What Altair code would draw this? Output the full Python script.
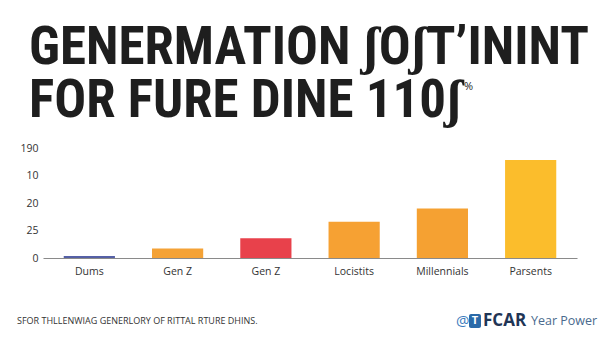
import altair as alt
import pandas as pd

categories = ["Dums", "Gen Z", "Gen Z", "Locistits", "Millennials", "Parsents"]
values = [1.8, 8.6, 18, 33, 45, 89]
bar_colors = ["#5560a6", "#f4a236", "#e8414b", "#f6a133", "#f5a132", "#fbbd2c"]
y_tick_values = [0, 25, 50, 75, 100]
y_tick_labels = ["0", "25", "20", "10", "190"]

title_lines = ["GENERMATION ʃOʃT’ININT", "FOR FURE DINE 110ʃ"]
footer_note = "SFOR THLLENWIAG GENERLORY OF RITTAL RTURE DHINS."

df = pd.DataFrame({"idx": list(range(len(categories))), "cat": categories,
                   "value": values, "color": bar_colors})

x_label_expr = "[" + ",".join('"%s"' % c for c in categories) + "][datum.value]"
y_label_expr = "{" + ",".join('"%d":"%s"' % (v, l) for v, l in zip(y_tick_values, y_tick_labels)) + "}[datum.value]"

bars = alt.Chart(df).mark_bar().encode(
    x=alt.X("idx:O", title=None,
            scale=alt.Scale(paddingInner=0.42, paddingOuter=0.235),
            axis=alt.Axis(labelExpr=x_label_expr, labelAngle=0, ticks=False,
                          domainColor="#8a8a8a", domainWidth=1.2,
                          labelPadding=8, labelFontSize=10.5, labelColor="#333333",
                          labelFont="Open Sans")),
    y=alt.Y("value:Q", title=None,
            scale=alt.Scale(domain=[0, 100], nice=False),
            axis=alt.Axis(values=y_tick_values, labelExpr=y_label_expr, ticks=False,
                          domain=False, grid=False, labelPadding=5,
                          labelFontSize=10.5, labelColor="#333333", labelFont="Open Sans")),
    color=alt.Color("color:N", scale=None, legend=None),
)

one = pd.DataFrame({"a": [0]})

def txt(s, x, y, size, color, weight="normal", font="Open Sans", align="left",
        baseline="middle"):
    return alt.Chart(one).mark_text(text=s, fontSize=size, color=color, fontWeight=weight,
                                    font=font, align=align, baseline=baseline).encode(
        x=alt.value(x), y=alt.value(y))

title_font = "Roboto Condensed"
title1 = txt(title_lines[0], -14, -84, 53, "#1e1e1e", weight="bold", font=title_font,
             baseline="alphabetic")
title2 = txt(title_lines[1], -14, -31, 53, "#1e1e1e", weight="bold", font=title_font,
             baseline="alphabetic")
pct = txt("%", 421, -61, 11, "#1e1e1e")

footer_left = txt(footer_note, -26, 173, 9, "#333333")
at_sign = txt("@", 413, 173, 15, "#3b7bbd")
box = alt.Chart(one).mark_rect(color="#2a69a8", cornerRadius=2).encode(
    x=alt.value(426), x2=alt.value(438), y=alt.value(166), y2=alt.value(180))
box_t = txt("T", 432, 173, 11, "white", weight="bold", align="center")
fcar = txt("FCAR", 440, 173, 17, "#1f3556", weight="bold")
year_power = txt("Year Power", 488, 173, 12.5, "#4a6a8e")

chart = alt.layer(bars, title1, title2, pct, footer_left, at_sign, box, box_t, fcar,
                  year_power).properties(
    width=534, height=110,
    autosize=alt.AutoSizeParams(type="none"),
    padding={"left": 43, "top": 148, "right": 23, "bottom": 80},
).configure(background="white").configure_view(stroke=None)

chart.save("out.html", embed_options={"renderer": "svg", "actions": False})
